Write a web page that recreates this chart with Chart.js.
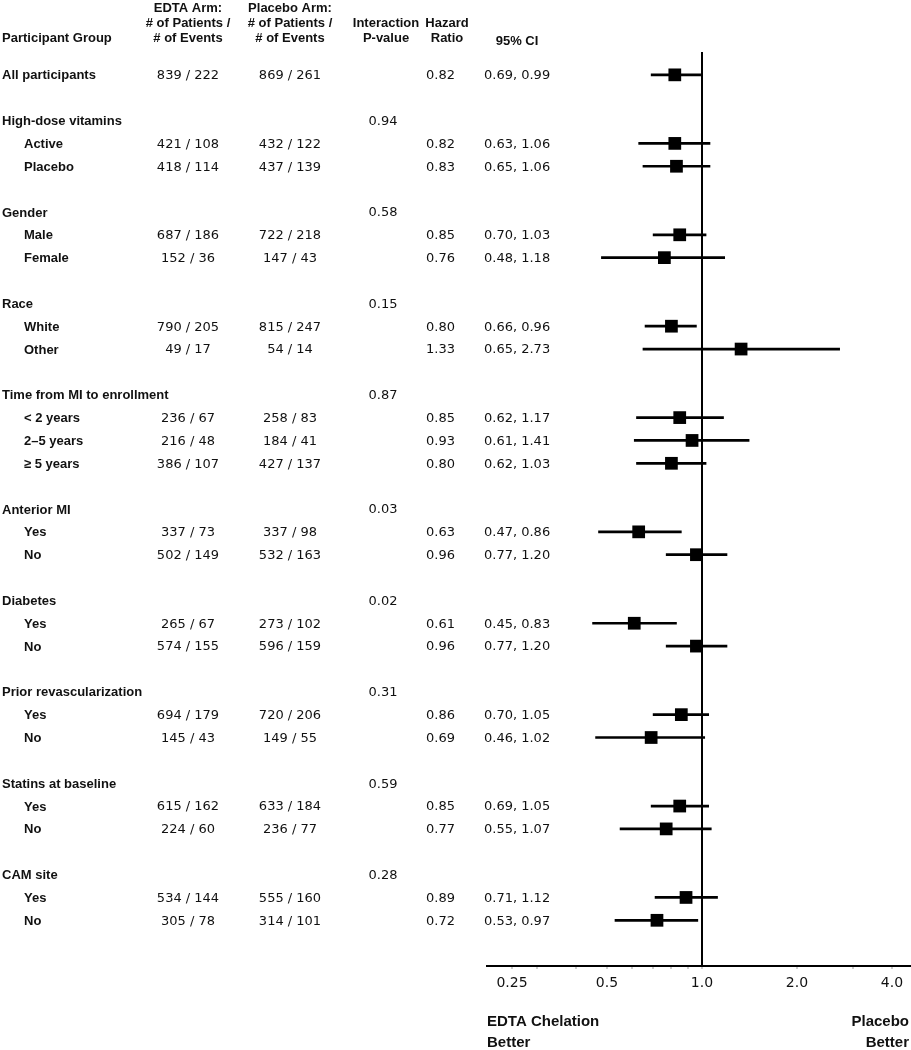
<!DOCTYPE html>
<html><head><meta charset="utf-8">
<script src="https://cdn.jsdelivr.net/npm/chart.js@4.4.1/dist/chart.umd.min.js"></script>
<style>html,body{margin:0;padding:0;background:#fff;overflow:hidden}#wrap{width:911px;height:1050px;position:relative}</style>
</head><body><div id="wrap"><canvas id="c"></canvas></div>
<script>
// ---- data ----
const rowLabels = ['All participants','High-dose vitamins','Active','Placebo','Gender','Male','Female','Race','White','Other',
  'Time from MI to enrollment','< 2 years','2–5 years','≥ 5 years','Anterior MI','Yes','No','Diabetes','Yes','No',
  'Prior revascularization','Yes','No','Statins at baseline','Yes','No','CAM site','Yes','No'];
const edtaArm = ['839 / 222',null,'421 / 108','418 / 114',null,'687 / 186','152 / 36',null,'790 / 205','49 / 17',
  null,'236 / 67','216 / 48','386 / 107',null,'337 / 73','502 / 149',null,'265 / 67','574 / 155',
  null,'694 / 179','145 / 43',null,'615 / 162','224 / 60',null,'534 / 144','305 / 78'];
const placeboArm = ['869 / 261',null,'432 / 122','437 / 139',null,'722 / 218','147 / 43',null,'815 / 247','54 / 14',
  null,'258 / 83','184 / 41','427 / 137',null,'337 / 98','532 / 163',null,'273 / 102','596 / 159',
  null,'720 / 206','149 / 55',null,'633 / 184','236 / 77',null,'555 / 160','314 / 101'];
const interactionP = [null,'0.94',null,null,'0.58',null,null,'0.15',null,null,'0.87',null,null,null,'0.03',null,null,'0.02',null,null,
  '0.31',null,null,'0.59',null,null,'0.28',null,null];
const hazardRatio = [0.82,null,0.82,0.83,null,0.85,0.76,null,0.80,1.33,null,0.85,0.93,0.80,null,0.63,0.96,null,0.61,0.96,
  null,0.86,0.69,null,0.85,0.77,null,0.89,0.72];
const ciLow = [0.69,null,0.63,0.65,null,0.70,0.48,null,0.66,0.65,null,0.62,0.61,0.62,null,0.47,0.77,null,0.45,0.77,
  null,0.70,0.46,null,0.69,0.55,null,0.71,0.53];
const ciHigh = [0.99,null,1.06,1.06,null,1.03,1.18,null,0.96,2.73,null,1.17,1.41,1.03,null,0.86,1.20,null,0.83,1.20,
  null,1.05,1.02,null,1.05,1.07,null,1.12,0.97];
const tickValues = [0.25,0.3,0.4,0.5,0.6,0.7,0.8,0.9,1,2,3,4];
const tickLabels = {0.25:'0.25',0.5:'0.5',1:'1.0',2:'2.0',4:'4.0'};

// ---- layout: row positions (a blank row before each group header) ----
const isHeader = rowLabels.map((_, i) => i > 0 && hazardRatio[i] === null);
const rowPos = [];
let p = 0;
rowLabels.forEach((_, i) => { if (i > 0) p += isHeader[i] ? 2 : 1; rowPos.push(p); });

const ciData = [], pointData = [];
rowLabels.forEach((_, i) => {
  if (hazardRatio[i] !== null) {
    ciData.push({x: [ciLow[i], ciHigh[i]], y: rowPos[i]});
    pointData.push({x: hazardRatio[i], y: rowPos[i]});
  }
});

const BOLD = 'bold 13px "Liberation Sans", Arial, sans-serif';
const NUM = '13px "DejaVu Sans", sans-serif';

const textPlugin = {
  id: 'forestText',
  afterDraw(chart) {
    const {ctx, scales: {y}} = chart;
    ctx.save();
    ctx.fillStyle = '#111';
    ctx.textBaseline = 'middle';
    const put = (t, x, yy, align) => { ctx.textAlign = align; ctx.fillText(t, x, yy); };
    ctx.font = BOLD;
    put('Participant Group', 2, 38, 'left');
    put('EDTA Arm:', 188, 8, 'center');
    put('# of Patients /', 188, 23, 'center');
    put('# of Events', 188, 38, 'center');
    put('Placebo Arm:', 290, 8, 'center');
    put('# of Patients /', 290, 23, 'center');
    put('# of Events', 290, 38, 'center');
    put('Interaction', 386, 23, 'center');
    put('P-value', 386, 38, 'center');
    put('Hazard', 447, 23, 'center');
    put('Ratio', 447, 38, 'center');
    put('95% CI', 517, 41, 'center');

    rowLabels.forEach((lab, i) => {
      const yy = y.getPixelForValue(rowPos[i]) + 1;
      ctx.font = BOLD;
      const sub = i > 0 && !isHeader[i];
      put(lab, sub ? 24 : 2, yy, 'left');
      ctx.font = NUM;
      if (edtaArm[i]) put(edtaArm[i], 188, yy, 'center');
      if (placeboArm[i]) put(placeboArm[i], 290, yy, 'center');
      if (interactionP[i]) put(interactionP[i], 383, yy, 'center');
      if (hazardRatio[i] !== null) {
        put(hazardRatio[i].toFixed(2), 455, yy, 'right');
        put(ciLow[i].toFixed(2) + ', ' + ciHigh[i].toFixed(2), 484, yy, 'left');
      }
    });

    ctx.font = 'bold 15px "Liberation Sans", Arial, sans-serif';
    put('EDTA Chelation', 487, 1022, 'left');
    put('Better', 487, 1043, 'left');
    put('Placebo', 909, 1022, 'right');
    put('Better', 909, 1043, 'right');
    ctx.restore();
  }
};

new Chart(document.getElementById('c'), {
  type: 'scatter',
  data: {datasets: [
    {type: 'bar', indexAxis: 'y', data: ciData, backgroundColor: '#000', borderWidth: 0, barThickness: 2, grouped: false, order: 2},
    {type: 'scatter', data: pointData, pointStyle: 'rect', pointRadius: 9, pointHoverRadius: 9, backgroundColor: '#000', borderWidth: 0, order: 1}
  ]},
  options: {
    responsive: true, maintainAspectRatio: false, animation: false, events: [],
    layout: {autoPadding: false, padding: {left: 487, top: 52, right: 0, bottom: 0}},
    plugins: {legend: {display: false}, tooltip: {enabled: false}},
    scales: {
      x: {
        type: 'logarithmic', min: 0.2083, max: 4.595, offset: false,
        afterBuildTicks: s => { s.ticks = tickValues.map(v => ({value: v})); },
        afterFit: s => { s.height = 84; s.paddingLeft = 0; s.paddingRight = 0; },
        border: {display: true, color: '#000', width: 2},
        grid: {
          offset: false, drawOnChartArea: true, drawTicks: true, tickLength: 3, tickColor: '#999', tickWidth: 1,
          color: c => (c.tick && c.tick.value === 1) ? '#000' : 'rgba(0,0,0,0)',
          lineWidth: c => (c.tick && c.tick.value === 1) ? 2 : 0
        },
        ticks: {
          autoSkip: false, maxRotation: 0, padding: 6, color: '#111',
          font: {family: '"DejaVu Sans", sans-serif', size: 14},
          callback: v => tickLabels[v] || ''
        }
      },
      y: {type: 'linear', reverse: true, min: -1, max: 39, display: false, offset: false}
    }
  },
  plugins: [textPlugin]
});
</script>
</body></html>
